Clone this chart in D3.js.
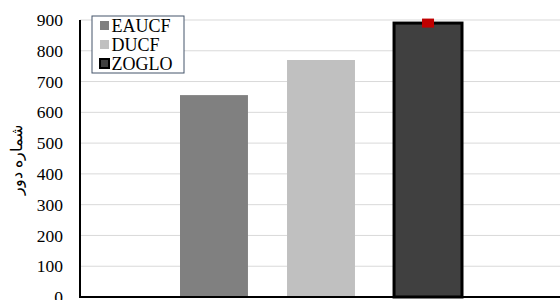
<!DOCTYPE html>
<html><head><meta charset="utf-8">
<script src="https://cdn.jsdelivr.net/npm/d3@7"></script>
<style>body{margin:0;background:#fff}svg{display:block}
.tick text{font-family:'Liberation Serif','Times New Roman',serif !important;font-size:17.5px !important;}</style>
</head><body>
<script>
const series = ["EAUCF", "DUCF", "ZOGLO"];
const values = [656, 770, 890];
const colors = ["#808080", "#c0c0c0", "#404040"];
const markerValue = 890;
const yTicks = [0, 100, 200, 300, 400, 500, 600, 700, 800, 900];
const yTitle = "شماره دور";

(function () {
const W = 560, H = 300;
const serif = "'Liberation Serif', 'Times New Roman', serif";
const svg = d3.select("body").append("svg").attr("width", W).attr("height", H);
const mLeft = 80, mTop = 20, mBottom = 297;
const y = d3.scaleLinear().domain([0, 900]).range([mBottom, mTop]);
const x = d3.scaleBand().domain(series).range([180, 462]).paddingInner(0.365).paddingOuter(0);

// gridlines
svg.append("g").selectAll("line").data(yTicks.filter(d => d > 0)).join("line")
  .attr("x1", mLeft).attr("x2", W).attr("y1", d => y(d)).attr("y2", d => y(d))
  .attr("stroke", "#d9d9d9").attr("stroke-width", 1);

// y axis
const ya = svg.append("g").attr("transform", `translate(${mLeft},0)`)
  .call(d3.axisLeft(y).tickValues(yTicks).tickSize(0).tickPadding(17));
ya.attr("font-family", serif).attr("font-size", 17.5);
ya.select(".domain").remove();
ya.selectAll(".tick text").attr("fill", "#000");

// bars
svg.append("g").selectAll("rect").data(series).join("rect")
  .attr("x", d => x(d)).attr("width", x.bandwidth())
  .attr("y", (d, i) => y(values[i])).attr("height", (d, i) => mBottom - y(values[i]))
  .attr("fill", (d, i) => colors[i])
  .attr("stroke", (d, i) => i === 2 ? "#000" : "none")
  .attr("stroke-width", (d, i) => i === 2 ? 3 : 0);

// axis lines
svg.append("line").attr("x1", mLeft).attr("x2", mLeft).attr("y1", mTop).attr("y2", mBottom + 1)
  .attr("stroke", "#000").attr("stroke-width", 2);
svg.append("line").attr("x1", mLeft - 1).attr("x2", W).attr("y1", mBottom).attr("y2", mBottom)
  .attr("stroke", "#000").attr("stroke-width", 2);

// marker
svg.append("rect").attr("x", x("ZOGLO") + x.bandwidth() / 2 - 6).attr("y", y(markerValue) - 4.5)
  .attr("width", 12).attr("height", 9).attr("fill", "#c00000");

// y title
svg.append("text").attr("transform", `translate(22,160) rotate(-90)`)
  .attr("text-anchor", "middle").style("font-family", serif)
  .style("font-size", "16px").attr("fill", "#000").text(yTitle);

// legend
const lg = svg.append("g");
lg.append("rect").attr("x", 92).attr("y", 16).attr("width", 92).attr("height", 57)
  .attr("fill", "#fff").attr("stroke", "#44546a").attr("stroke-width", 1);
series.forEach((s, i) => {
  const yy = 25.5 + i * 19;
  lg.append("rect").attr("x", 100).attr("y", yy - 4.5).attr("width", 9).attr("height", 9)
    .attr("fill", colors[i]).attr("stroke", i === 2 ? "#000" : "none").attr("stroke-width", i === 2 ? 2 : 0);
  lg.append("text").attr("x", 111.5).attr("y", yy).attr("dy", "0.35em")
    .style("font-family", serif).style("font-size", "18px")
    .attr("fill", "#000").text(s);
});
})();
</script>
</body></html>
